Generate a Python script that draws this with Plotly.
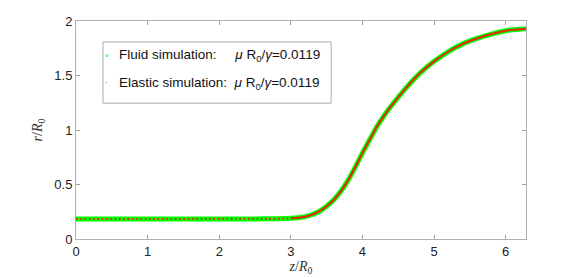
import plotly.graph_objects as go
import numpy as np

# Profile data (z/R0, r/R0)
z_vals = [0.0, 0.5, 1.0, 1.5, 2.0, 2.5, 2.8, 3.0, 3.1, 3.2, 3.3, 3.4, 3.5, 3.6, 3.7,
          3.8, 3.9, 4.0, 4.1, 4.2, 4.3, 4.4, 4.6, 4.8, 5.0, 5.2, 5.4, 5.6, 5.8, 6.0, 6.1, 6.2832]
r_fluid = [0.183, 0.183, 0.183, 0.183, 0.183, 0.184, 0.186, 0.19, 0.195, 0.205, 0.225, 0.255, 0.30, 0.36, 0.44,
           0.54, 0.66, 0.79, 0.91, 1.03, 1.13, 1.22, 1.38, 1.52, 1.63, 1.72, 1.79, 1.84, 1.88, 1.91, 1.92, 1.93]
r_elastic = list(r_fluid)

legend_fluid = "Fluid simulation:\u00a0\u00a0\u00a0\u00a0 <i>μ</i> R<sub>0</sub>/<i>γ</i>=0.0119"
legend_elastic = "Elastic simulation:\u00a0 <i>μ</i> R<sub>0</sub>/<i>γ</i>=0.0119"

x_ticks = [0, 1, 2, 3, 4, 5, 6]
y_ticks = [0, 0.5, 1, 1.5, 2]
y_tick_text = ["0", "0.5", "1", "1.5", "2"]

fig = go.Figure()

# fluid: thick green
fig.add_trace(go.Scatter(x=z_vals, y=r_fluid, mode="lines",
                         line=dict(color="#00ff00", width=5, shape="spline", smoothing=0.6),
                         showlegend=False, hoverinfo="skip"))

# elastic: red, dotted in flat part, solid where it rises
za = np.array(z_vals)
ra = np.array(r_elastic)
flat = za <= 3.0
fig.add_trace(go.Scatter(x=za[flat], y=ra[flat], mode="lines",
                         line=dict(color="#e8200a", width=2, dash="1.5px,2.8px"),
                         showlegend=False, hoverinfo="skip"))
rise = za >= 3.0
fig.add_trace(go.Scatter(x=za[rise], y=ra[rise], mode="lines",
                         line=dict(color="#ee2200", width=2, shape="spline", smoothing=0.6),
                         showlegend=False, hoverinfo="skip"))

axis_common = dict(showline=True, linecolor="#b0b0b0", linewidth=1, mirror="ticks",
                   ticks="inside", ticklen=4, tickcolor="#a0a0a0", showgrid=False,
                   zeroline=False, automargin=False,
                   tickfont=dict(family="Liberation Sans, Arial", size=13, color="#222"))

# manual legend box
fig.add_shape(type="rect", xref="paper", yref="paper", x0=0.060, x1=0.567, y0=0.623, y1=0.904,
              line=dict(color="#aaaaaa", width=1), fillcolor="white", layer="above")
leg_font = dict(family="Liberation Sans, Arial", size=13.5, color="#111")
fig.add_annotation(xref="paper", yref="paper", x=0.092, y=0.843, xanchor="left", yanchor="middle",
                   text=legend_fluid, showarrow=False, font=leg_font)
fig.add_annotation(xref="paper", yref="paper", x=0.092, y=0.715, xanchor="left", yanchor="middle",
                   text=legend_elastic, showarrow=False, font=leg_font)
fig.add_annotation(xref="paper", yref="paper", x=0.0675, y=0.843, xanchor="center", yanchor="middle",
                   text="■", showarrow=False, font=dict(size=5, color="#66ff66"))
fig.add_annotation(xref="paper", yref="paper", x=0.0675, y=0.715, xanchor="center", yanchor="middle",
                   text="•", showarrow=False, font=dict(size=6, color="#ff7070"))

fig.update_layout(
    width=581, height=278,
    margin=dict(l=76, r=55, t=21, b=39),
    paper_bgcolor="white", plot_bgcolor="white",
    showlegend=False,
    xaxis=dict(range=[0, 6.2832], tickvals=x_ticks,
               title=dict(text="<i>z</i>/<i>R</i><sub>0</sub>", standoff=2,
                          font=dict(family="Liberation Serif, DejaVu Serif", size=14, color="#333")),
               **axis_common),
    yaxis=dict(range=[0, 2], tickvals=y_ticks, ticktext=y_tick_text,
               title=dict(text="<i>r</i>/<i>R</i><sub>0</sub>", standoff=8,
                          font=dict(family="Liberation Serif, DejaVu Serif", size=14, color="#333")),
               **axis_common),
)

fig.write_html("out.html", config={"displayModeBar": False},
               post_script="document.body.style.margin='0';document.body.style.overflow='hidden';")
